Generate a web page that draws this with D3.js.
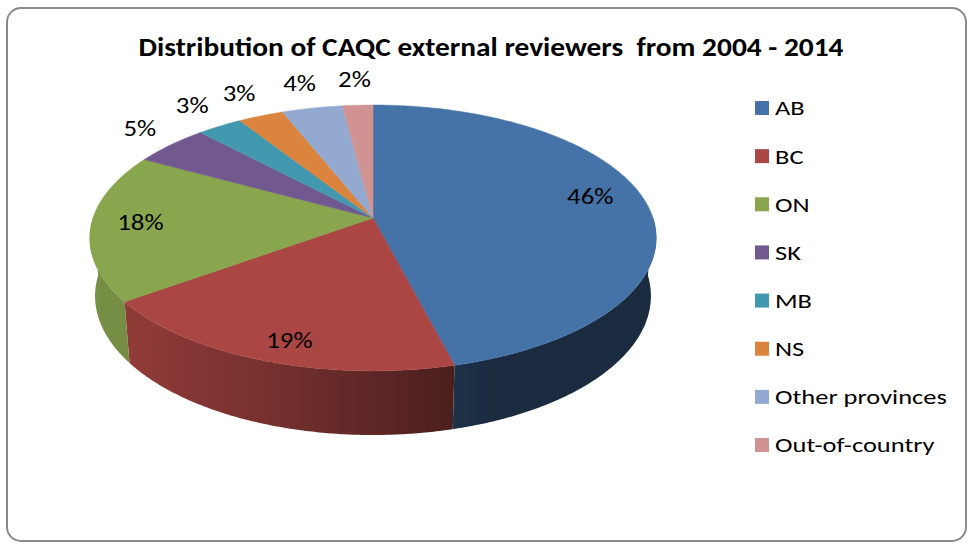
<!DOCTYPE html>
<meta charset="utf-8">
<style>
  body { margin: 0; background: #fff; }
  text { font-family: Carlito, Calibri, Lato, sans-serif; fill: #000; }
</style>
<script src="https://d3js.org/d3.v7.min.js"></script>
<body>
<div id="chart"></div>
</body>
<script>
// data
var categories = ["AB", "BC", "ON", "SK", "MB", "NS", "Other provinces", "Out-of-country"];
var shares = [46, 19, 18, 5, 3, 3, 4, 2];
var sliceLabels = ["46%", "19%", "18%", "5%", "3%", "3%", "4%", "2%"];
var colors = ["#4572A7", "#AA4643", "#89A54E", "#71588F", "#4198AF", "#DB843D", "#93A9CF", "#D19392"];
var chartTitle = "Distribution of CAQC external reviewers  from 2004 - 2014";

var width = 971, height = 544;
var stretch = 1.22; // text in the picture is drawn a bit wide

var svg = d3.select("#chart")
  .append("svg")
    .attr("width", width)
    .attr("height", height);

var defs = svg.append("defs");

// chart frame
svg.append("rect")
    .attr("x", 7).attr("y", 8)
    .attr("width", 959).attr("height", 533)
    .attr("rx", 14)
    .style("fill", "#fff")
    .style("stroke", "#8a8a8a")
    .style("stroke-width", 2);

svg.append("text")
    .attr("transform", "translate(491,47) scale(1.13,1)")
    .attr("text-anchor", "middle")
    .attr("dominant-baseline", "central")
    .style("font-size", "26px")
    .style("font-weight", "bold")
    .style("white-space", "pre")
    .text(chartTitle);

var data = categories.map(function(c, i) {
  return {name: c, value: shares[i], label: sliceLabels[i], color: colors[i]};
});

var pie = d3.pie().sort(null).value(function(d) { return d.value; });
var arcs = pie(data);

// perspective view of the pie disc (radius 1, thickness = depth)
var cx = 373, cy = 218;
var tilt = 27.65 * Math.PI / 180, dist = 5.9, focal = 1652, depth = 0.236;
var ct = Math.cos(tilt), st = Math.sin(tilt);

function project(r, phi, yy) {
  var X = r * Math.sin(phi), Z = r * Math.cos(phi);
  var w = dist + Z * ct - yy * st;
  return [cx + focal * X / w, cy - focal * (yy * ct + Z * st) / w];
}

// side shading: dark on the right, lighter toward the left
function shade(phi) {
  var t = Math.max(0, Math.min(1, (phi - 160 * Math.PI / 180) / (90 * Math.PI / 180)));
  return 0.39 + 0.48 * Math.sin(t * Math.PI / 2);
}

var line = d3.line();
var step = Math.PI / 360;

function arcPoints(a0, a1, yy) {
  var n = Math.max(2, Math.ceil((a1 - a0) / step));
  return d3.range(n + 1).map(function(i) { return project(1, a0 + (a1 - a0) * i / n, yy); });
}

// front walls, one path per slice with a horizontal gradient
var walls = arcs.map(function(a, i) {
  return {i: i, lo: Math.max(a.startAngle, Math.PI / 2), hi: Math.min(a.endAngle, 3 * Math.PI / 2), color: a.data.color};
}).filter(function(w) { return w.hi > w.lo; });

walls.forEach(function(w) {
  var xa = project(1, w.hi, 0)[0], xb = project(1, w.lo, 0)[0];
  var g = defs.append("linearGradient")
      .attr("id", "wall" + w.i)
      .attr("gradientUnits", "userSpaceOnUse")
      .attr("x1", xa).attr("y1", 0)
      .attr("x2", xb).attr("y2", 0);
  var c = d3.rgb(w.color);
  d3.range(13).forEach(function(k) {
    var phi = w.hi + (w.lo - w.hi) * k / 12;
    var x = project(1, phi, 0)[0];
    var off = Math.max(0, Math.min(1, (x - xa) / (xb - xa)));
    var b = shade(phi);
    g.append("stop")
        .attr("offset", off)
        .attr("stop-color", d3.rgb(c.r * b, c.g * b, c.b * b).toString());
  });
});

svg.append("g").attr("class", "walls")
  .selectAll("path")
  .data(walls)
  .enter()
  .append("path")
    .attr("d", function(w) {
      return line(arcPoints(w.lo, w.hi, 0).concat(arcPoints(w.lo, w.hi, -depth).reverse())) + "Z";
    })
    .style("fill", function(w) { return "url(#wall" + w.i + ")"; });

// top faces
svg.append("g").attr("class", "tops")
  .selectAll("path")
  .data(arcs)
  .enter()
  .append("path")
    .attr("d", function(d) {
      return line([project(0, 0, 0)].concat(arcPoints(d.startAngle, d.endAngle, 0))) + "Z";
    })
    .style("fill", function(d) { return d.data.color; })
    .style("stroke", function(d) { return d.data.color; })
    .style("stroke-width", 0.5);

// data labels
svg.append("g").attr("class", "labels")
  .selectAll("text")
  .data(arcs)
  .enter()
  .append("text")
    .attr("transform", function(d) {
      var m = (d.startAngle + d.endAngle) / 2;
      var inside = d.data.value >= 10;
      var x = inside ? 366 + 226 * Math.sin(m) : cx + 295 * Math.sin(m);
      var y = inside ? 214 - 135 * Math.cos(m) : 205 - 125 * Math.cos(m);
      return "translate(" + x + "," + y + ") scale(" + stretch + ",1)";
    })
    .attr("text-anchor", "middle")
    .attr("dominant-baseline", "central")
    .style("font-size", "22px")
    .text(function(d) { return d.data.label; });

// legend
var row = d3.scalePoint().domain(categories).range([108, 445]);
var legend = svg.append("g").attr("class", "legend")
  .selectAll("g")
  .data(data)
  .enter()
  .append("g")
    .attr("transform", function(d) { return "translate(755," + row(d.name) + ")"; });

legend.append("rect")
    .attr("x", 0).attr("y", -7)
    .attr("width", 14).attr("height", 14)
    .style("fill", function(d) { return d.color; });

legend.append("text")
    .attr("transform", "translate(20,0) scale(1.26,1)")
    .attr("dominant-baseline", "central")
    .style("font-size", "21px")
    .text(function(d) { return d.name; });
</script>
</html>
